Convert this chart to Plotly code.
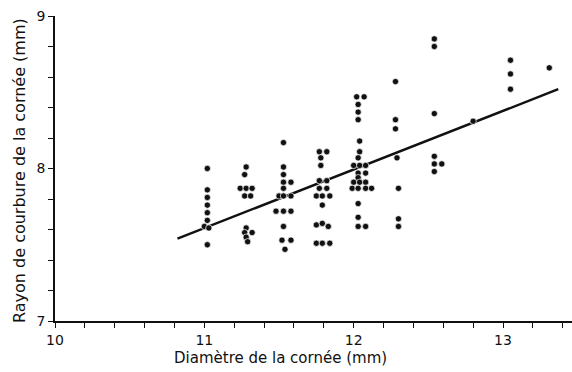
import plotly.graph_objects as go

# --- data ---
diam_c1 = [11.02, 11.02, 11.02, 11.02, 11.02, 11.02, 11.00, 11.03, 11.02]
rayon_c1 = [8.00, 7.86, 7.81, 7.76, 7.71, 7.66, 7.62, 7.61, 7.50]

diam_c2 = [11.28, 11.27, 11.24, 11.28, 11.32, 11.27, 11.31, 11.28, 11.27, 11.32, 11.28, 11.29]
rayon_c2 = [8.01, 7.96, 7.87, 7.87, 7.87, 7.82, 7.82, 7.61, 7.58, 7.58, 7.55, 7.52]

diam_c3 = [11.53, 11.53, 11.53, 11.53, 11.58, 11.53, 11.50, 11.53, 11.58, 11.48, 11.53, 11.58, 11.53, 11.52, 11.58, 11.54]
rayon_c3 = [8.17, 8.01, 7.96, 7.91, 7.91, 7.87, 7.82, 7.82, 7.82, 7.72, 7.72, 7.72, 7.62, 7.53, 7.53, 7.47]

diam_c4 = [11.77, 11.82, 11.78, 11.78, 11.77, 11.82, 11.77, 11.82, 11.75, 11.79, 11.84, 11.79, 11.75, 11.79, 11.83, 11.75, 11.79, 11.84]
rayon_c4 = [8.11, 8.11, 8.07, 8.02, 7.92, 7.92, 7.87, 7.87, 7.82, 7.82, 7.82, 7.76, 7.63, 7.64, 7.62, 7.51, 7.51, 7.51]

diam_c5 = [12.02, 12.07, 12.03, 12.03, 12.03, 12.04, 12.04, 12.03, 12.00, 12.04, 12.08, 12.03, 12.08, 12.03,
           12.00, 12.04, 12.08, 11.99, 12.03, 12.08, 12.12, 12.03, 12.03, 12.03, 12.08]
rayon_c5 = [8.47, 8.47, 8.42, 8.37, 8.32, 8.18, 8.11, 8.07, 8.02, 8.02, 8.02, 7.97, 7.97, 7.94,
            7.91, 7.91, 7.91, 7.87, 7.87, 7.87, 7.87, 7.77, 7.68, 7.62, 7.62]

diam_c6 = [12.28, 12.28, 12.28, 12.29, 12.30, 12.30, 12.30]
rayon_c6 = [8.57, 8.32, 8.26, 8.07, 7.87, 7.67, 7.62]

diam_c7 = [12.54, 12.54, 12.54, 12.54, 12.54, 12.59, 12.54]
rayon_c7 = [8.85, 8.80, 8.36, 8.08, 8.03, 8.03, 7.98]

diam_c8 = [12.80, 13.05, 13.05, 13.05, 13.31]
rayon_c8 = [8.31, 8.71, 8.62, 8.52, 8.66]

# regression line end points
fit_x = [10.82, 13.37]
fit_y = [7.54, 8.52]

x_ticks = [10, 11, 12, 13]
y_ticks = [7, 8, 9]

diam = diam_c1 + diam_c2 + diam_c3 + diam_c4 + diam_c5 + diam_c6 + diam_c7 + diam_c8
rayon = rayon_c1 + rayon_c2 + rayon_c3 + rayon_c4 + rayon_c5 + rayon_c6 + rayon_c7 + rayon_c8

FONT = "DejaVu Sans, sans-serif"
INK = "#111111"

fig = go.Figure()
fig.add_trace(go.Scatter(x=fit_x, y=fit_y, mode="lines",
                         line=dict(color=INK, width=2.4), hoverinfo="skip"))
fig.add_trace(go.Scatter(x=diam, y=rayon, mode="markers",
                         marker=dict(color=INK, size=6.3,
                                     line=dict(color="white", width=0.7))))

axis_common = dict(showgrid=False, zeroline=False,
                   showline=True, linecolor=INK, linewidth=1.6,
                   tickmode="array",
                   ticks="outside", ticklen=5, tickwidth=1.4, tickcolor=INK,
                   tickfont=dict(size=14, family=FONT, color=INK))

fig.update_layout(
    width=572, height=372,
    margin=dict(l=55, r=0, t=16, b=51),
    paper_bgcolor="white", plot_bgcolor="white",
    showlegend=False,
    font=dict(family=FONT, color=INK, size=14),
    xaxis=dict(range=[10, 13.462], tickvals=x_ticks, ticktext=[str(v) for v in x_ticks],
               minor=dict(dtick=0.2, tick0=10, ticks="outside", ticklen=5,
                          tickwidth=1.4, tickcolor=INK, showgrid=False),
               **axis_common),
    yaxis=dict(range=[7, 9], tickvals=y_ticks, ticktext=[str(v) for v in y_ticks],
               minor=dict(dtick=0.2, tick0=7, ticks="outside", ticklen=5,
                          tickwidth=1.4, tickcolor=INK, showgrid=False),
               **axis_common),
    annotations=[
        dict(text="Diamètre de la cornée (mm)", xref="paper", yref="paper",
             x=(280 - 55) / 517, y=-(358 - 321) / 305, xanchor="center", yanchor="middle",
             showarrow=False, font=dict(size=15, family=FONT, color=INK)),
        dict(text="Rayon de courbure de la cornée (mm)", xref="paper", yref="paper",
             x=-(55 - 19) / 517, y=(321 - 171) / 305, xanchor="center", yanchor="middle",
             textangle=-90, showarrow=False, font=dict(size=16, family=FONT, color=INK)),
    ],
)

fig.write_html("out.html")
